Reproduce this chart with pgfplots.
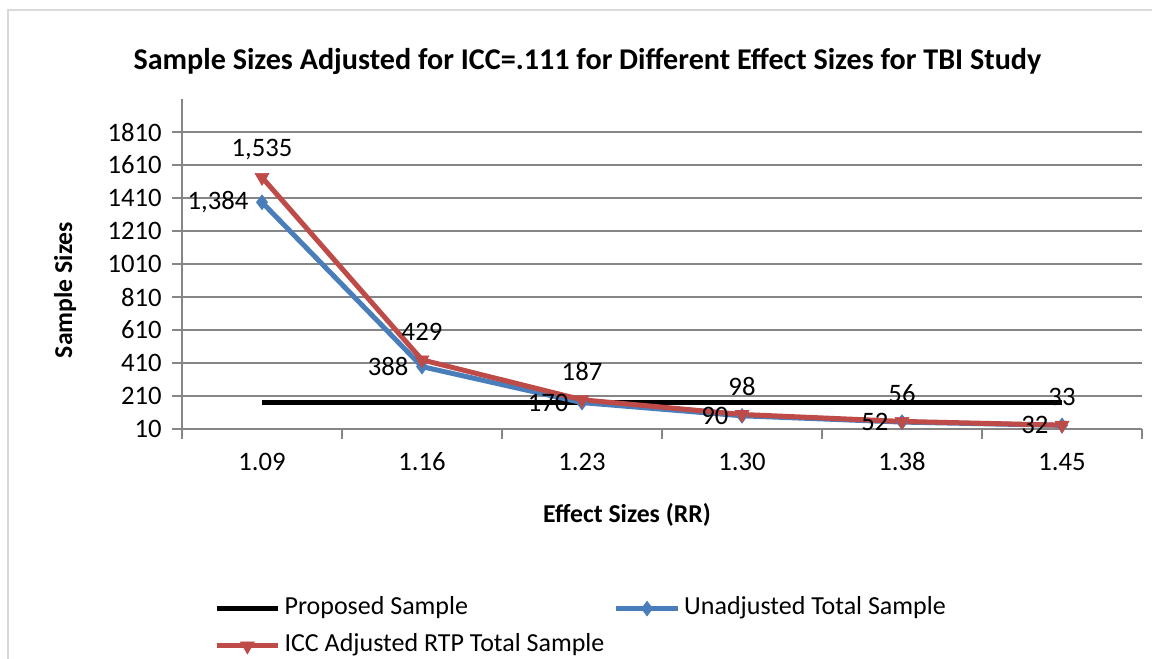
\documentclass[border=0pt]{standalone}
\usepackage{pgfplots}
\pgfplotsset{compat=1.18}
\usepackage{fontspec}
\setmainfont{Carlito}
\definecolor{ublue}{HTML}{4A7EBB}
\definecolor{ired}{HTML}{BE4B48}
\definecolor{gridc}{HTML}{868686}
\definecolor{framec}{HTML}{D9D9D9}
\begin{document}
\begin{tikzpicture}
\path[use as bounding box] (0,0) rectangle (864pt,494.25pt);
\draw[framec, line width=1.5pt] (6pt,0pt) -- (6pt,486.75pt) -- (864pt,486.75pt);
\node[font=\bfseries\fontsize{22.6}{26}\selectfont] at (440.6pt,448.5pt) {Sample Sizes Adjusted for ICC=.111 for Different Effect Sizes for TBI Study};
\node[font=\bfseries\fontsize{19.3}{23}\selectfont, rotate=90] at (48.75pt,276.75pt) {Sample Sizes};
\node[font=\bfseries\fontsize{19.3}{23}\selectfont] at (470.25pt,108pt) {Effect Sizes (RR)};
\begin{axis}[
 at={(136.5pt,172.5pt)}, anchor=south west,
 width=720pt, height=247.5pt, scale only axis,
 xmin=-0.5, xmax=5.5, ymin=10, ymax=2010,
 xtick={0,...,5}, xticklabels={1.09,1.16,1.23,1.30,1.38,1.45},
 minor xtick={-0.5,0.5,...,5.5},
 ytick={10,210,...,1810},
 axis x line*=bottom, axis y line*=left,
 axis line style={gridc, line width=1pt, -},
 ymajorgrids, grid style={gridc, line width=1pt},
 tick align=outside, major tick length=7.5pt, minor tick length=7.5pt,
 tick style={gridc, line width=1pt},
 major x tick style={draw=none},
 /pgf/number format/assume math mode=true,
 tick label style={font=\fontsize{20}{24}\selectfont},
 yticklabel style={/pgf/number format/1000 sep={}, anchor=east, inner sep=0pt, xshift=-7.5pt},
 xticklabel style={anchor=north, inner sep=0pt, text height=13pt, text depth=1pt, yshift=-10.5pt},
 legend columns=2,
 legend cell align=left,
 legend style={draw=none, fill=none, at={(0.0333,-0.5091)}, anchor=north west, inner sep=0pt,
   font=\fontsize{19.5}{23}\selectfont, row sep=11pt,
   nodes={inner sep=0pt, text height=13pt, text depth=4pt, anchor=west},
   /tikz/every odd column/.append style={column sep=3pt}},
 legend image code/.code={\draw[mark repeat=2,mark phase=2,#1] plot coordinates {(0pt,0pt) (23pt,0pt) (46pt,0pt)};},
 clip=false,
]
\addplot[black, line width=3.75pt] coordinates {(0,170) (1,170) (2,170) (3,170) (4,170) (5,170)};
\addlegendentry{\makebox[247pt][l]{Proposed Sample}}
\addplot[ublue, line width=3.75pt, mark=diamond*, mark size=5.5pt,
  mark options={solid, fill=ublue, line width=0.5pt},
  nodes near coords={\pgfmathprintnumber[1000 sep={,}]{\pgfplotspointmeta}},
  every node near coord/.append style={anchor=east, xshift=-10pt, inner sep=0pt, text=black, font=\fontsize{20}{24}\selectfont}]
  coordinates {(0,1384) (1,388) (2,170) (3,90) (4,52) (5,32)};
\addlegendentry{Unadjusted Total Sample}
\addplot[ired, line width=3.75pt, mark=triangle*, mark size=6pt,
  mark options={solid, rotate=180, fill=ired, line width=0.5pt},
  nodes near coords={\pgfmathprintnumber[1000 sep={,}]{\pgfplotspointmeta}},
  every node near coord/.append style={anchor=center, yshift=21pt, inner sep=0pt, text=black, font=\fontsize{20}{24}\selectfont}]
  coordinates {(0,1535) (1,429) (2,187) (3,98) (4,56) (5,33)};
\addlegendentry{\makebox[247pt][l]{ICC Adjusted RTP Total Sample}}
\end{axis}
\end{tikzpicture}
\end{document}
